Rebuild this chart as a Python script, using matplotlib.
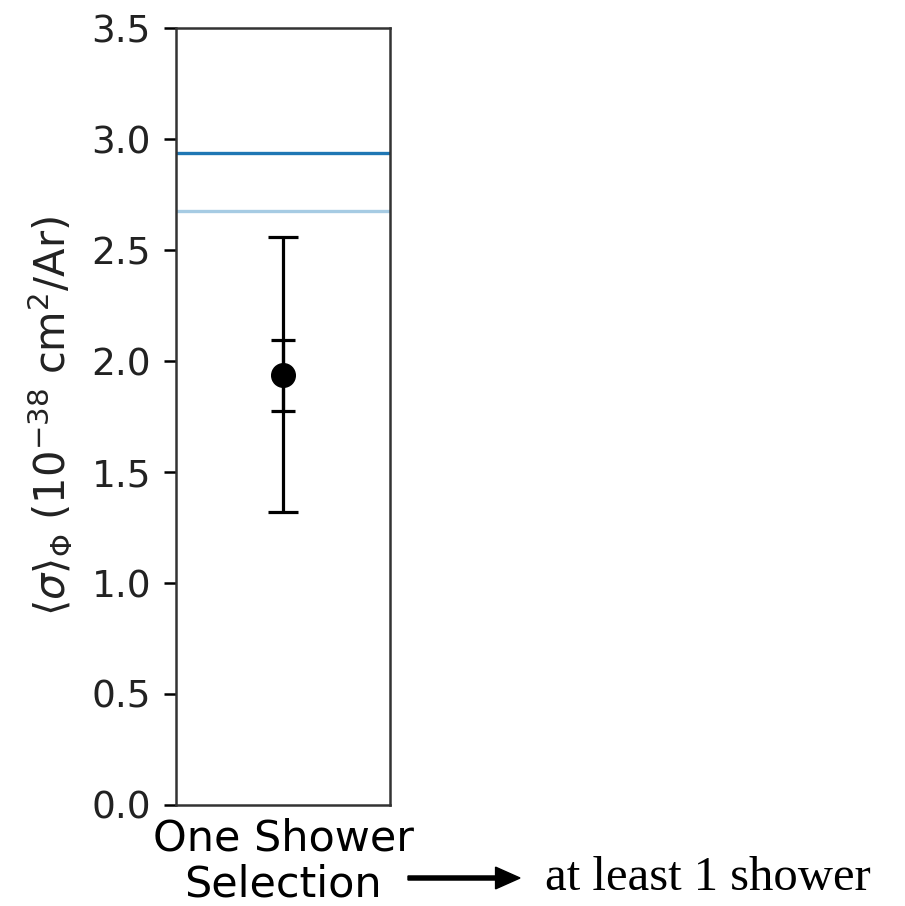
import numpy as np
import matplotlib
matplotlib.use("Agg")
import matplotlib.pyplot as plt

# Data
categories = ["One Shower\nSelection"]
xsec = [1.937]
err_stat = [0.16]
err_total_lo = [0.617]
err_total_hi = [0.622]
pred_dark = 2.937
pred_light = 2.676

fig = plt.figure(figsize=(9.05, 9.06), dpi=100)
ax = fig.add_axes([0.1945, 0.1115, 0.2365, 0.8575])

x = np.arange(len(categories))

# model predictions
ax.axhline(pred_dark, color="#1f77b4", lw=2.4)
ax.axhline(pred_light, color="#a6cbe3", lw=2.4)

# total uncertainty
ax.errorbar(x, xsec, yerr=[err_total_lo, err_total_hi], fmt="none",
            ecolor="black", elinewidth=2.3, capsize=10.5, capthick=2.3)
# stat uncertainty
ax.errorbar(x, xsec, yerr=err_stat, fmt="o", color="black",
            markersize=17, elinewidth=2.3, capsize=8.5, capthick=2.3)

ax.set_xlim(-0.5, 0.5)
ax.set_ylim(0, 3.5)
ax.set_xticks(x)
ax.set_xticklabels(categories, fontsize=31, linespacing=1.12)
ax.tick_params(axis="x", length=0, pad=9)
ax.tick_params(axis="y", labelsize=27, length=9, width=1.8, pad=9,
               labelcolor="#222222")
for s in ax.spines.values():
    s.set_linewidth(1.8)
    s.set_color("#333333")
ax.set_ylabel(r"$\langle\sigma\rangle_\Phi$ (10$^{-38}$ cm$^2$/Ar)", fontsize=30,
              labelpad=12, color="#222222")

# annotation arrow + note
fig.patches.append(matplotlib.patches.FancyArrow(
    408 / 905, 1 - 878 / 906, 112 / 905, 0, width=0.0045,
    head_width=0.024, head_length=0.027, length_includes_head=True,
    color="black", transform=fig.transFigure))
fig.text(545 / 905, 1 - 890 / 906, "at least 1 shower", fontsize=35,
         family="Liberation Serif", va="baseline", ha="left")

fig.savefig("out.png", dpi=100)
